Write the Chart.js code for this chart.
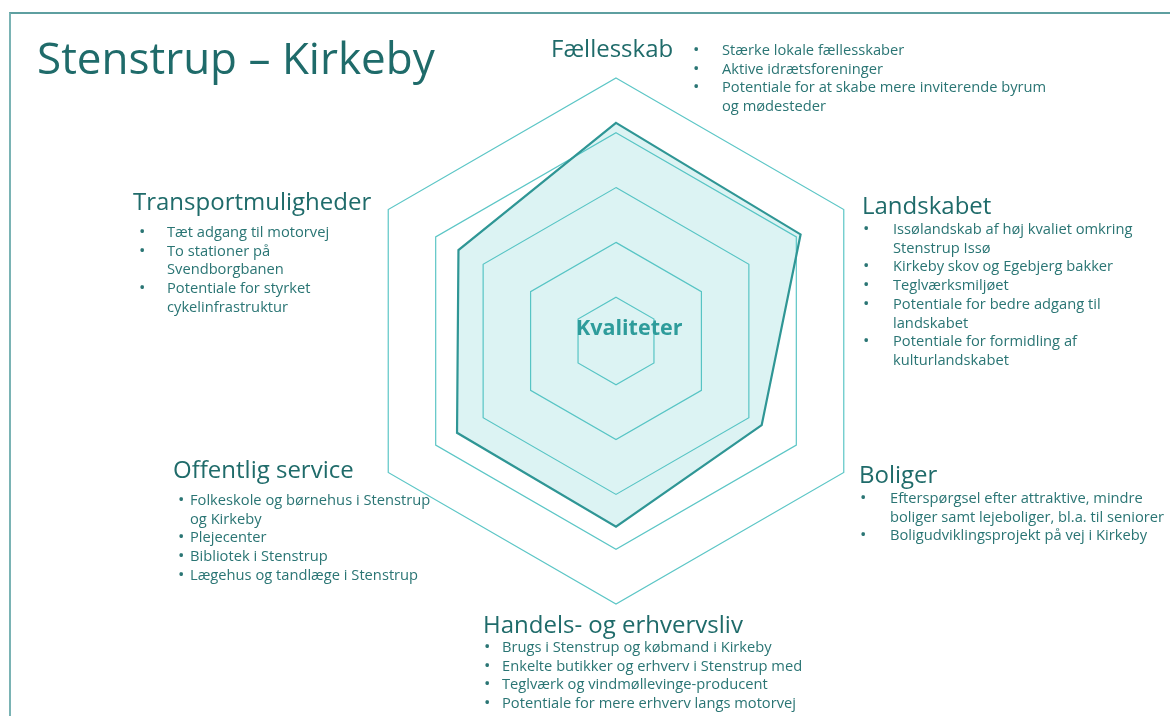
<!DOCTYPE html>
<html lang="da">
<head>
<meta charset="utf-8">
<title>Stenstrup – Kirkeby</title>
<script src="https://cdn.jsdelivr.net/npm/chart.js@4.4.1/dist/chart.umd.min.js"></script>
<style>
  html, body { margin: 0; padding: 0; background: #fff; }
  #stage { position: relative; width: 1170px; height: 716px; overflow: hidden; font-family: 'Open Sans', 'Noto Sans', sans-serif; }
  #frame { position: absolute; left: 9px; top: 12px; width: 1200px; height: 800px; border-top: 2px solid #5e9fa0; border-left: 2px solid #7ab3b4; }
  #chartBox { position: absolute; left: 0; top: 0; width: 1170px; height: 716px; }
  .title { position: absolute; left: 37px; top: 32px; font-size: 44px; line-height: 50px; white-space: nowrap; color: #1f6b6a; }
  .head { position: absolute; font-size: 24px; line-height: 28px; white-space: nowrap; color: #1f6b6a; }
  .item { position: absolute; font-size: 14.7px; line-height: 18.7px; white-space: nowrap; color: #2a7574; }
  .dot { position: absolute; font-size: 17px; line-height: 18.7px; color: #2a7574; }
  .center { position: absolute; left: 576px; top: 314px; font-size: 21.5px; line-height: 26px; font-weight: 700; color: #2e9c9b; }
</style>
</head>
<body>
<div id="stage">
  <div id="frame"></div>
  <div id="chartBox"><canvas id="radar"></canvas></div>
  <div class="title">Stenstrup – Kirkeby</div>
  <div class="center">Kvaliteter</div>
</div>
<script>
(() => {
  'use strict'

  // Data

  const categories = [
    'Fællesskab',
    'Landskabet',
    'Boliger',
    'Handels- og erhvervsliv',
    'Offentlig service',
    'Transportmuligheder'
  ]

  const scores = [4.18, 4.09, 3.27, 3.59, 3.55, 3.52]

  // scale runs from a small offset, rings at 1..5
  const scaleMin = 0.2
  const scaleMax = 5
  const rings = [1, 2, 3, 4, 5]

  const notes = [
    ['Stærke lokale fællesskaber', 'Aktive idrætsforeninger', ['Potentiale for at skabe mere inviterende byrum', 'og mødesteder']],
    [['Issølandskab af høj kvaliet omkring', 'Stenstrup Issø'], 'Kirkeby skov og Egebjerg bakker', 'Teglværksmiljøet', ['Potentiale for bedre adgang til', 'landskabet'], ['Potentiale for formidling af', 'kulturlandskabet']],
    [['Efterspørgsel efter attraktive, mindre', 'boliger samt lejeboliger, bl.a. til seniorer'], 'Boligudviklingsprojekt på vej i Kirkeby'],
    ['Brugs i Stenstrup og købmand i Kirkeby', 'Enkelte butikker og erhverv i Stenstrup med', 'Teglværk og vindmøllevinge-producent', 'Potentiale for mere erhverv langs motorvej'],
    [['Folkeskole og børnehus i Stenstrup', 'og Kirkeby'], 'Plejecenter', 'Bibliotek i Stenstrup', 'Lægehus og tandlæge i Stenstrup'],
    ['Tæt adgang til motorvej', ['To stationer på', 'Svendborgbanen'], ['Potentiale for styrket', 'cykelinfrastruktur']]
  ]

  // Text blocks: heading x / baseline, bullet x, text x, first line baseline
  const blocks = [
    { hx: 551, hy: 57, bx: 693, tx: 722, ly: 55 },
    { hx: 862, hy: 214, bx: 863, tx: 893, ly: 234 },
    { hx: 859, hy: 483, bx: 860, tx: 890, ly: 503 },
    { hx: 483, hy: 633, bx: 484, tx: 502, ly: 652 },
    { hx: 173, hy: 478, bx: 178, tx: 190, ly: 505 },
    { hx: 133, hy: 210, bx: 139, tx: 167, ly: 237 }
  ]

  const stage = document.getElementById('stage')
  const lineH = 18.7

  const put = (cls, text, x, y) => {
    const el = document.createElement('div')
    el.className = cls
    el.textContent = text
    el.style.left = x + 'px'
    el.style.top = y + 'px'
    stage.appendChild(el)
  }

  categories.forEach((name, i) => {
    const b = blocks[i]
    put('head', name, b.hx, b.hy - 23)
    let y = b.ly - 15
    notes[i].forEach(n => {
      const lines = Array.isArray(n) ? n : [n]
      put('dot', '•', b.bx, y)
      lines.forEach(l => {
        put('item', l, b.tx, y)
        y += lineH
      })
    })
  })

  // Graph

  const ctx = document.getElementById('radar')

  // eslint-disable-next-line no-unused-vars
  const radar = new Chart(ctx, {
    type: 'radar',
    data: {
      labels: categories,
      datasets: [{
        data: scores,
        backgroundColor: 'rgba(70, 190, 190, 0.19)',
        borderColor: '#2f9695',
        borderWidth: 2.2,
        pointRadius: 0,
        pointHoverRadius: 0,
        fill: true
      }]
    },
    options: {
      responsive: true,
      maintainAspectRatio: false,
      animation: false,
      layout: {
        padding: { left: 353, right: 291, top: 78, bottom: 112 }
      },
      plugins: {
        legend: { display: false },
        tooltip: { enabled: false }
      },
      scales: {
        r: {
          min: scaleMin,
          max: scaleMax,
          angleLines: { display: false },
          grid: { color: '#5cc6c6', lineWidth: 1.2 },
          pointLabels: { display: false },
          ticks: { display: false },
          afterBuildTicks: scale => {
            scale.ticks = [scaleMin, ...rings].map(v => ({ value: v }))
          }
        }
      }
    }
  })
})()
</script>
</body>
</html>
